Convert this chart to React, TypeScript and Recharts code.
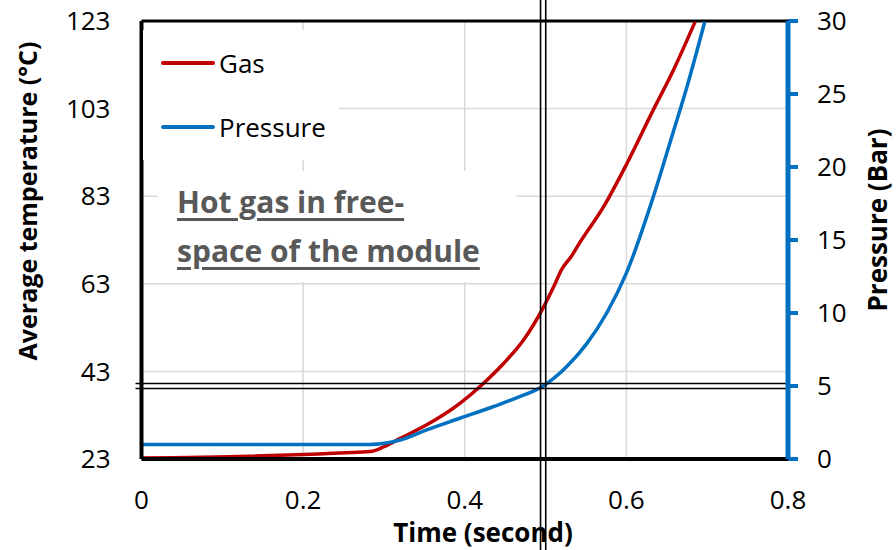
import React from 'react';
import {
  LineChart,
  Line,
  XAxis,
  YAxis,
  CartesianGrid,
  ReferenceLine,
  Legend,
  Label,
} from 'recharts';

// gas temperature (°C) over time (s)
const gasTime = [0, 0.283, 0.3, 0.32, 0.353, 0.394, 0.421, 0.448, 0.4725, 0.497, 0.51, 0.52, 0.532, 0.543, 0.5715, 0.6005, 0.633, 0.658, 0.685];
const gasTemp = [23.2, 24.7, 25.8, 27.7, 30.8, 35.7, 39.9, 44.8, 50.1, 57.5, 62.3, 66.3, 69.3, 72.6, 80.5, 90.4, 102.6, 111.7, 122.8];

// pressure (bar) over time (s)
const pressTime = [0, 0.283, 0.32, 0.353, 0.394, 0.435, 0.468, 0.4955, 0.526, 0.551, 0.5757, 0.6005, 0.633, 0.658, 0.675, 0.697];
const pressBar = [1.0, 1.0, 1.3, 2.0, 2.79, 3.58, 4.27, 4.95, 6.32, 7.9, 10.0, 12.8, 17.9, 22.4, 25.5, 29.95];

const xTicks = [0, 0.2, 0.4, 0.6, 0.8];
const tempTicks = [23, 43, 63, 83, 103, 123];
const pressTicks = [0, 5, 10, 15, 20, 25, 30];

const markTime = 0.497;
const markPressure = 5;

const gasData = gasTime.map((t, i) => ({ t, v: gasTemp[i] }));
const pressData = pressTime.map((t, i) => ({ t, v: pressBar[i] }));

const RED = '#C00000';
const BLUE = '#0070C0';
const FONT = '"Open Sans", sans-serif';

const tickStyle = { fontFamily: FONT, fontSize: 26, fill: '#000' };

const legendItems = [
  { name: 'Gas', color: RED },
  { name: 'Pressure', color: BLUE },
];

const LegendBox = () => (
  <div style={{ background: '#fff', width: 196, height: 130, position: 'relative', fontFamily: FONT }}>
    {legendItems.map((it, i) => (
      <div
        key={it.name}
        style={{ position: 'absolute', left: 18, top: 33 + i * 64 - 17, height: 34, display: 'flex', alignItems: 'center' }}
      >
        <div style={{ width: 54, height: 4, background: it.color, borderRadius: 2 }} />
        <span style={{ marginLeft: 4, fontSize: 26, color: '#000' }}>{it.name}</span>
      </div>
    ))}
  </div>
);

const VDouble = (props: any) => {
  const x = props.x1;
  return (
    <g>
      <line x1={x - 2.6} x2={x - 2.6} y1={0} y2={550} stroke="#000" strokeWidth={1.6} />
      <line x1={x + 2.6} x2={x + 2.6} y1={0} y2={550} stroke="#000" strokeWidth={1.6} />
    </g>
  );
};

const HDouble = (props: any) => {
  const y = props.y1;
  return (
    <g>
      <line x1={props.x1} x2={props.x2 - 6} y1={y - 2.5} y2={y - 2.5} stroke="#000" strokeWidth={1.6} />
      <line x1={props.x1} x2={props.x2 - 6} y1={y + 2.5} y2={y + 2.5} stroke="#000" strokeWidth={1.6} />
    </g>
  );
};

export default function App() {
  return (
    <div style={{ position: 'absolute', left: 0, top: 0, width: 896, height: 550, background: '#fff' }}>
      <LineChart width={896} height={550} margin={{ top: 21, right: 0, bottom: 0, left: 0 }}>
        <CartesianGrid yAxisId="left" stroke="#d9d9d9" strokeWidth={1.5} />
        <XAxis
          dataKey="t"
          type="number"
          domain={[0, 0.8]}
          ticks={xTicks}
          height={91}
          axisLine={{ stroke: '#000', strokeWidth: 4 }}
          tickLine={false}
          tickSize={0}
          tickMargin={32}
          tick={tickStyle}
          allowDuplicatedCategory={false}
        >
          <Label
            content={() => (
              <text x={483} y={542} textAnchor="middle" fontFamily={FONT} fontSize={26} fontWeight={700} fill="#000">
                Time (second)
              </text>
            )}
          />
        </XAxis>
        <YAxis
          yAxisId="left"
          domain={[23, 123]}
          ticks={tempTicks}
          width={141.5}
          axisLine={{ stroke: '#000', strokeWidth: 4 }}
          tickLine={false}
          tickSize={0}
          tickMargin={31}
          tick={tickStyle}
        >
          <Label
            content={() => (
              <text
                x={37}
                y={201}
                transform="rotate(-90 37 201)"
                textAnchor="middle"
                fontFamily={FONT}
                fontSize={25}
                fontWeight={700}
                fill="#000"
              >
                Average temperature (°C)
              </text>
            )}
          />
        </YAxis>
        <YAxis
          yAxisId="right"
          orientation="right"
          domain={[0, 30]}
          ticks={pressTicks}
          width={108}
          axisLine={{ stroke: BLUE, strokeWidth: 5 }}
          tickLine={{ stroke: BLUE, strokeWidth: 4 }}
          tickSize={10}
          tickMargin={19}
          tick={tickStyle}
        >
          <Label
            content={() => (
              <text
                x={887}
                y={220}
                transform="rotate(-90 887 220)"
                textAnchor="middle"
                fontFamily={FONT}
                fontSize={26}
                fontWeight={700}
                fill="#000"
              >
                Pressure (Bar)
              </text>
            )}
          />
        </YAxis>

        <ReferenceLine yAxisId="left" y={123} stroke="#000" strokeWidth={3} />
        <ReferenceLine yAxisId="left" y={23} stroke="#9a9a9a" strokeWidth={1.6} />
        <ReferenceLine yAxisId="left" x={0} stroke="#9a9a9a" strokeWidth={1.6} />

        <Line
          yAxisId="left"
          data={gasData}
          dataKey="v"
          name="Gas"
          type="monotone"
          stroke={RED}
          strokeWidth={3.5}
          dot={false}
          isAnimationActive={false}
        />
        <Line
          yAxisId="right"
          data={pressData}
          dataKey="v"
          name="Pressure"
          type="monotone"
          stroke={BLUE}
          strokeWidth={3.5}
          dot={false}
          isAnimationActive={false}
        />

        <ReferenceLine yAxisId="right" y={markPressure} shape={HDouble} />
        <ReferenceLine yAxisId="left" x={markTime} shape={VDouble} />

        <Legend
          layout="vertical"
          align="center"
          verticalAlign="middle"
          content={() => <LegendBox />}
          wrapperStyle={{ left: 143, top: 30, width: 196, height: 130 }}
        />
      </LineChart>
      <div
        style={{
          position: 'absolute',
          left: 158,
          top: 171,
          width: 358,
          height: 111,
          background: '#fff',
          boxSizing: 'border-box',
          paddingTop: 6,
          paddingLeft: 19,
          fontFamily: FONT,
          fontWeight: 700,
          fontSize: 30,
          lineHeight: '49px',
          color: '#595959',
          textDecoration: 'underline',
          textUnderlineOffset: 5,
          textDecorationThickness: 3,
          whiteSpace: 'nowrap',
        }}
      >
        Hot gas in free-
        <br />
        space of the module
      </div>
    </div>
  );
}
